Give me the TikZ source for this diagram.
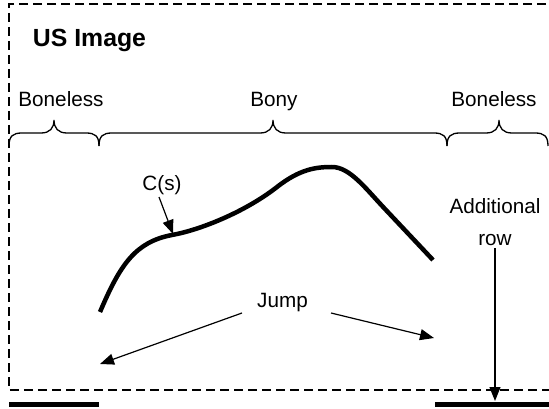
\documentclass[tikz,border=0pt]{standalone}
\usepackage{fontspec}
\setmainfont{Liberation Sans}
\usetikzlibrary{arrows.meta}
\tikzset{
  lbl/.style={inner sep=0pt, anchor=base, font=\fontsize{20.7}{24}\selectfont},
  bracepath/.style={line width=1.3pt},
  framebox/.style={line width=1.1pt, dash pattern=on 9pt off 5pt},
  thinarrow/.style={line width=1.2pt, -{Triangle[length=14pt,width=11pt]}},
  thickcurve/.style={line width=4.5pt, line cap=butt, line join=round},
  bar/.style={line width=5pt}
}
\begin{document}
\begin{tikzpicture}[x=1pt,y=-1pt]
\useasboundingbox (0,0) rectangle (549,409);
% frame (right side outside the picture)
\draw[framebox] (560,4) -- (9,4) -- (9,390) -- (560,390);
% title
\node[inner sep=0pt, anchor=base, font=\fontsize{24.8}{28}\selectfont\bfseries] (title) at (89.5,47) {US Image};
% labels above braces
\node[lbl] (bl1) at (61,107) {Boneless};
\node[lbl] (bony) at (274,107) {Bony};
\node[lbl] (bl2) at (494,107) {Boneless};
% braces
\foreach \xl/\xt/\xr in {9/54/99, 99/273/447, 447/499/548}{
  \draw[bracepath] (\xl,146) .. controls (\xl,136) and (\xl+4,133) .. (\xl+13,133) -- (\xt-13,133)
     .. controls (\xt-4,133) and (\xt,128) .. (\xt,120) .. controls (\xt,128) and (\xt+4,133) .. (\xt+13,133)
     -- (\xr-13,133) .. controls (\xr-4,133) and (\xr,136) .. (\xr,146);
}
% curve C(s)
\coordinate (c0) at (100,312);
\coordinate (c1) at (172,235);
\coordinate (c2) at (277,187);
\coordinate (c3) at (332,167);
\coordinate (c4) at (385,209);
\coordinate (c5) at (433,260);
\draw[thickcurve] (c0) .. controls (120,265) and (135,242) .. (c1)
  .. controls (200,230) and (245,212) .. (c2)
  .. controls (300,169) and (316,167) .. (c3)
  .. controls (350,167) and (366,189) .. (c4) -- (c5);
\coordinate (cpt) at (173,234);
\node[lbl] (cs) at (162,190) {C(s)};
\coordinate (csstart) at (159,197);
\draw[thinarrow] (csstart) -- (cpt);
% jump
\node[lbl] (jump) at (282.5,307) {Jump};
\coordinate (jl) at (242,313);
\coordinate (jr) at (331,313);
\coordinate (jlend) at (100,364);
\coordinate (jrend) at (434,338);
\draw[thinarrow] (jl) -- (jlend);
\draw[thinarrow] (jr) -- (jrend);
% additional row
\node[lbl, align=center, font=\fontsize{20.7}{32}\selectfont] (add) at (495,245) {Additional\\row};
\coordinate (addstart) at (495,248);
\coordinate (addend) at (495,401);
\draw[thinarrow] (addstart) -- (addend);
% bars
\coordinate (b1l) at (9,404); \coordinate (b1r) at (99,404);
\coordinate (b2l) at (435,404); \coordinate (b2r) at (549,404);
\draw[bar] (b1l) -- (b1r);
\draw[bar] (b2l) -- (b2r);
\end{tikzpicture}
\end{document}
